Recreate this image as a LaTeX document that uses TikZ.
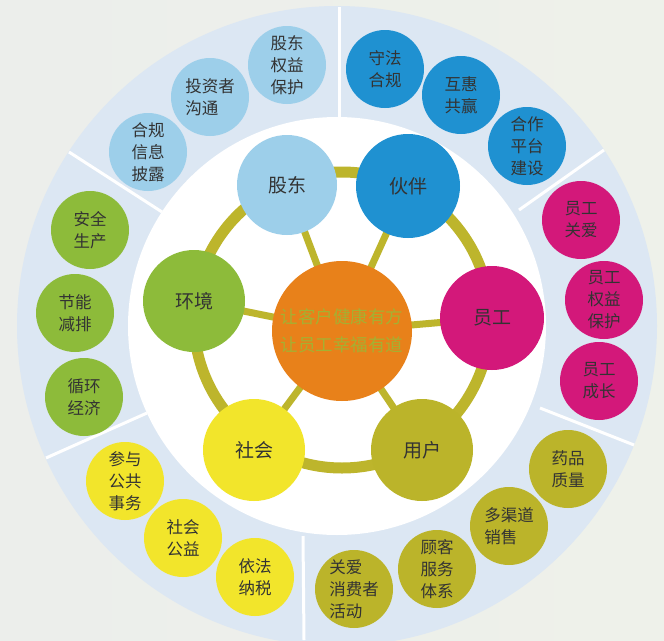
\documentclass[tikz,border=0pt]{standalone}
\usepackage{fontspec}
\newfontfamily\cjk{Noto Sans CJK SC}
\usetikzlibrary{backgrounds}
\pgfdeclarelayer{back}
\pgfdeclarelayer{mid}
\pgfsetlayers{back,mid,main}
\definecolor{bgcol}{HTML}{ECEEEB}
\definecolor{bgcolB}{HTML}{EEF1EA}
\definecolor{ringblue}{HTML}{DCE7F3}
\definecolor{cLB}{HTML}{9DCFEA}
\definecolor{cB}{HTML}{1F91D1}
\definecolor{cM}{HTML}{D3187A}
\definecolor{cO}{HTML}{BBB42A}
\definecolor{cY}{HTML}{F2E52B}
\definecolor{cG}{HTML}{8DBB3A}
\definecolor{cOr}{HTML}{E8811A}
\definecolor{olive}{HTML}{BDB52C}
\definecolor{ctext}{HTML}{A4B132}
\definecolor{tdark}{HTML}{333333}
\tikzset{
  small/.style={circle, inner sep=0pt, minimum size=78pt, align=left, text=tdark,
    font={\cjk\fontsize{16.5}{22}\selectfont}},
  big/.style={circle, inner sep=0pt, minimum size=102pt, text=tdark,
    font={\cjk\fontsize{19}{22}\selectfont}},
  spoke/.style={draw=olive, line width=7pt},
  divider/.style={draw=white, line width=3pt},
}
\begin{document}
\begin{tikzpicture}[x=1pt,y=-1pt]
\useasboundingbox (0,0) rectangle (664,640);
\coordinate (C) at (337,326);
\coordinate (R) at (342,320);
\begin{pgfonlayer}{back}
  \shade[left color=bgcol, right color=bgcolB] (0,0) rectangle (664,640);
  \begin{scope}
    \clip (0,0) rectangle (664,640);
    \fill[ringblue] (C) circle[radius=320pt];
  \end{scope}
  \fill[white] (C) circle[radius=209pt];
  \coordinate (d1a) at (339,117); \coordinate (d1b) at (339,7);
  \coordinate (d2a) at (162,212); \coordinate (d2b) at (69,152);
  \coordinate (d3a) at (147,413); \coordinate (d3b) at (46,458);
  \coordinate (d4a) at (303,536); \coordinate (d4b) at (304,640);
  \coordinate (d5a) at (540,408); \coordinate (d5b) at (634,445);
  \coordinate (d6a) at (519,210); \coordinate (d6b) at (604,150);
  \draw[divider] (d1a) -- (d1b);
  \draw[divider] (d2a) -- (d2b);
  \draw[divider] (d3a) -- (d3b);
  \draw[divider] (d4a) -- (d4b);
  \draw[divider] (d5a) -- (d5b);
  \draw[divider] (d6a) -- (d6b);
  \draw[olive, line width=11pt] (R) circle[radius=148pt];
\end{pgfonlayer}

% centre
\node[circle, inner sep=0pt, minimum size=140pt, fill=cOr, text=ctext, align=center,
  font={\cjk\fontsize{17.5}{28}\selectfont}] (ctr) at (342,331) {让客户健康有方\\让员工幸福有道};

% categories
\node[big, fill=cLB, minimum size=100pt] (gd) at (287,185) {股东};
\node[big, fill=cB, minimum size=104pt] (hb) at (408,186) {伙伴};
\node[big, fill=cM, minimum size=104pt] (yg) at (492,318) {员工};
\node[big, fill=cO] (yh) at (422,450) {用户};
\node[big, fill=cY] (sh) at (254,450) {社会};
\node[big, fill=cG] (hj) at (194,301) {环境};

\begin{pgfonlayer}{mid}
  \draw[spoke] (ctr.center) -- (gd.center);
  \draw[spoke] (ctr.center) -- (hb.center);
  \draw[spoke] (ctr.center) -- (yg.center);
  \draw[spoke] (ctr.center) -- (yh.center);
  \draw[spoke] (ctr.center) -- (sh.center);
  \draw[spoke] (ctr.center) -- (hj.center);
\end{pgfonlayer}

% shareholder group
\node[small, fill=cLB] (s1) at (148,152) {合规\\信息\\披露};
\node[small, fill=cLB] (s2) at (210,97) {投资者\\沟通};
\node[small, fill=cLB] (s3) at (287,65) {股东\\权益\\保护};
% partner group
\node[small, fill=cB] (p1) at (385,69) {守法\\合规};
\node[small, fill=cB] (p2) at (461,95) {互惠\\共赢};
\node[small, fill=cB] (p3) at (527,146) {合作\\平台\\建设};
% employee group
\node[small, fill=cM] (e1) at (581,220) {员工\\关爱};
\node[small, fill=cM] (e2) at (604,300) {员工\\权益\\保护};
\node[small, fill=cM] (e3) at (599,381) {员工\\成长};
% user group
\node[small, fill=cO] (u1) at (568,469) {药品\\质量};
\node[small, fill=cO] (u2) at (509,526) {多渠道\\销售};
\node[small, fill=cO] (u3) at (437,569) {顾客\\服务\\体系};
\node[small, fill=cO] (u4) at (354,589) {关爱\\消费者\\活动};
% society group
\node[small, fill=cY] (o1) at (255,577) {依法\\纳税};
\node[small, fill=cY] (o2) at (183,538) {社会\\公益};
\node[small, fill=cY] (o3) at (125,481) {参与\\公共\\事务};
% environment group
\node[small, fill=cG] (g1) at (84,397) {循环\\经济};
\node[small, fill=cG] (g2) at (75,313) {节能\\减排};
\node[small, fill=cG] (g3) at (90,230) {安全\\生产};
\end{tikzpicture}
\end{document}
